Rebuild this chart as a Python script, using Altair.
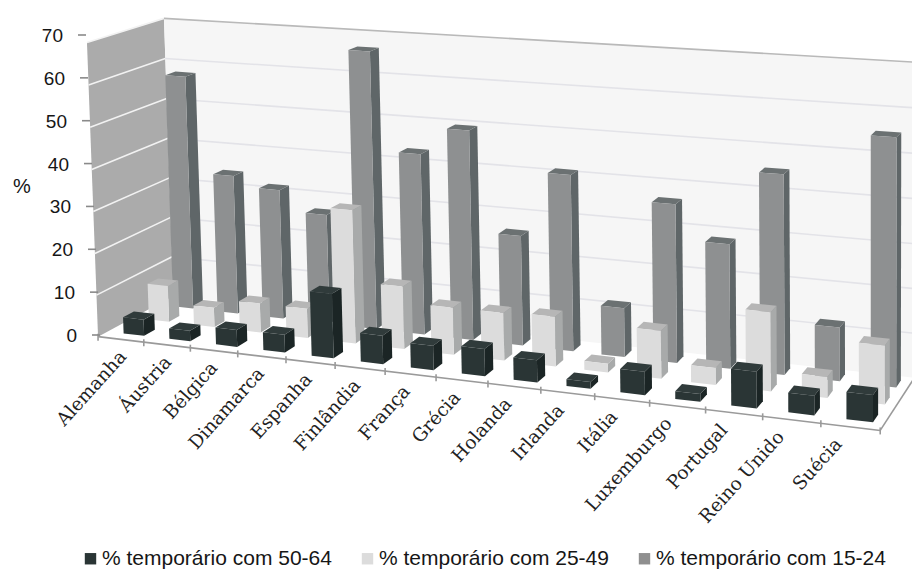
import numpy as np
import altair as alt

countries = ["Alemanha", "Áustria", "Bélgica", "Dinamarca", "Espanha", "Finlândia", "França", "Grécia",
             "Holanda", "Irlanda", "Itália", "Luxemburgo", "Portugal", "Reino Unido", "Suécia"]
series = ["% temporário com 50-64", "% temporário com 25-49", "% temporário com 15-24"]
age_50_64 = [3.9, 2.5, 4, 4.2, 15, 6.6, 5.6, 6.2, 5, 1.5, 5.2, 1.7, 8, 4.2, 5.8]
age_25_49 = [8.8, 4.7, 7, 7, 31.5, 14.7, 11, 11, 11.4, 2, 10.8, 3.8, 17.5, 4.6, 12.8]
age_15_24 = [57.5, 34, 31.5, 26.5, 66.5, 43, 49.5, 25.8, 41, 11.3, 36.3, 28.3, 45, 12, 55]
value_ticks = [0, 10, 20, 30, 40, 50, 60, 70]

# (series values, row depth, front / side / top shades), drawn back to front
rows = [
    (age_15_24, 0.85, "#8e9091", "#5f6668", "#6b7172"),
    (age_25_49, 0.52, "#dcdcdc", "#a8aaaa", "#b6b6b6"),
    (age_50_64, 0.19, "#2a3535", "#1b2525", "#303b3b"),
]

# Camera: a projective map from (category, depth, value) to the drawing plane
camera_pairs = [
    ((0, 0, 0), (100, 335)), ((0, 0, 1), (86, 42)),
    ((0, 1, 0), (172, 298)), ((0, 1, 1), (165, 18)),
    ((1, 0, 0), (880, 432)), ((1, 1, 0), (915, 375)), ((1, 1, 1), (915, 63)),
    ((1 / 3, 0, 0), (334, 365)), ((2 / 3, 0, 0), (595, 397)),
]
A, b = [], []
for (X, Y, Z), (px, py) in camera_pairs:
    A.append([X, Y, Z, 1, 0, 0, 0, 0, -px * X, -px * Y, -px * Z]); b.append(px)
    A.append([0, 0, 0, 0, X, Y, Z, 1, -py * X, -py * Y, -py * Z]); b.append(py)
p = np.linalg.lstsq(np.array(A, float), np.array(b, float), rcond=None)[0]


def project(cat, depth, value):
    """Category position in units of one country, depth in 0..1, value in %."""
    X, Y, Z = cat / len(countries), depth, value / 70
    w = p[8] * X + p[9] * Y + p[10] * Z + 1
    return [float((p[0] * X + p[1] * Y + p[2] * Z + p[3]) / w),
            float((p[4] * X + p[5] * Y + p[6] * Z + p[7]) / w)]


def polygon(corners, fill):
    ring = [project(*c) for c in corners]
    return {"type": "Feature", "properties": {"fill": fill},
            "geometry": {"type": "Polygon", "coordinates": [ring + [ring[0]]]}}


def segment(a, b, colour):
    return {"type": "Feature", "properties": {"stroke": colour},
            "geometry": {"type": "LineString", "coordinates": [a, b]}}


def collection(features):
    return alt.InlineData(values={"type": "FeatureCollection", "features": features},
                          format=alt.DataFormat(property="features", type="json"))


N = len(countries)
plane = dict(type="identity", scale=1, translate=[0, 0])

# Side wall and back wall
walls = [
    polygon([(0, 0, 0), (0, 1, 0), (0, 1, 70), (0, 0, 70)], "#ababab"),
    polygon([(0, 1, 0), (N, 1, 0), (N, 1, 70), (0, 1, 70)], "#f6f6f6"),
]

# Gridlines on both walls, the top edge and the floor edges
lines = []
for v in value_ticks[1:]:
    lines.append(segment(project(0, 0, v), project(0, 1, v), "#f2f2f2"))
    lines.append(segment(project(0, 1, v), project(N, 1, v), "#b9b9b9" if v == 70 else "#e3e3e8"))
lines.append(segment(project(0, 0, 0), project(N, 0, 0), "#9a9a9a"))
lines.append(segment(project(N, 0, 0), project(N, 1, 0), "#9a9a9a"))
for i in range(N + 1):
    x0, y0 = project(i, 0, 0)
    lines.append(segment([x0, y0 - 3], [x0, y0 + 4], "#9a9a9a"))

# Value ticks sit beside the side wall's front edge
value_labels = []
for v in value_ticks:
    f = v / 70
    xe, ye = 100 - 14 * f, 335 - 300 * f
    lines.append(segment([xe - 8, ye], [xe, ye], "#8a8a8a"))
    value_labels.append({"lon": xe - 23, "lat": ye + 1, "t": str(v)})

# Bars: front, right side and top of each box
half = 0.225
half_depth = 0.07
bars = []
for values, depth, front, side, top in rows:
    for i, v in enumerate(values):
        c = i + 0.58
        l, r = c - half, c + half
        n, f = depth - half_depth, depth + half_depth
        bars.append(polygon([(r, n, 0), (r, f, 0), (r, f, v), (r, n, v)], side))
        bars.append(polygon([(l, n, v), (r, n, v), (r, f, v), (l, f, v)], top))
        bars.append(polygon([(l, n, 0), (r, n, 0), (r, n, v), (l, n, v)], front))

category_labels = []
for i, name in enumerate(countries):
    x0, y0 = project(i + 0.5, 0, 0)
    category_labels.append({"lon": x0 + 2 - i, "lat": y0 + 14, "t": name})

wall_layer = alt.Chart(collection(walls)).mark_geoshape(strokeWidth=0).encode(
    fill=alt.Fill("properties.fill:N", scale=None)).project(**plane)
line_layer = alt.Chart(collection(lines)).mark_geoshape(filled=False, strokeWidth=1.6).encode(
    stroke=alt.Stroke("properties.stroke:N", scale=None)).project(**plane)
bar_layer = alt.Chart(collection(bars)).mark_geoshape(strokeWidth=0).encode(
    fill=alt.Fill("properties.fill:N", scale=None)).project(**plane)

value_text = alt.Chart(alt.Data(values=value_labels)).mark_text(
    font="Liberation Sans", fontSize=19, align="right", baseline="middle", color="#161616"
).encode(longitude="lon:Q", latitude="lat:Q", text="t:N").project(**plane)

category_text = alt.Chart(alt.Data(values=category_labels)).mark_text(
    font="DejaVu Serif", fontSize=18.5, align="right", baseline="middle", angle=312, color="#222222"
).encode(longitude="lon:Q", latitude="lat:Q", text="t:N").project(**plane)

unit_text = alt.Chart(alt.Data(values=[{"lon": 22, "lat": 187, "t": "%"}])).mark_text(
    font="Liberation Sans", fontSize=20, align="center", baseline="middle", color="#161616"
).encode(longitude="lon:Q", latitude="lat:Q", text="t:N").project(**plane)

# Transparent points whose only job is to carry the series legend
legend_layer = alt.Chart(alt.Data(values=[{"lon": 400, "lat": 300, "s": s} for s in series])).mark_square(
    opacity=0, size=10
).encode(
    longitude="lon:Q", latitude="lat:Q",
    color=alt.Color("s:N", scale=alt.Scale(domain=series, range=["#2a3535", "#dcdcdc", "#8f8f8f"]),
                    legend=alt.Legend(title=None, orient="none", legendX=80, legendY=548,
                                      direction="horizontal", columns=3, symbolType="square",
                                      symbolSize=130, symbolOpacity=1, symbolStrokeWidth=0,
                                      labelFont="Liberation Sans", labelFontSize=21, labelColor="#161616",
                                      labelOffset=1, columnPadding=25, labelLimit=300)),
).project(**plane)

chart = alt.layer(
    wall_layer, line_layer, bar_layer, value_text, unit_text, category_text, legend_layer
).properties(
    width=912, height=571, padding=0, autosize=alt.AutoSizeParams(type="none"), background="white"
).configure_view(stroke=None)

chart.save("out.html", embed_options={"renderer": "svg", "actions": False})
